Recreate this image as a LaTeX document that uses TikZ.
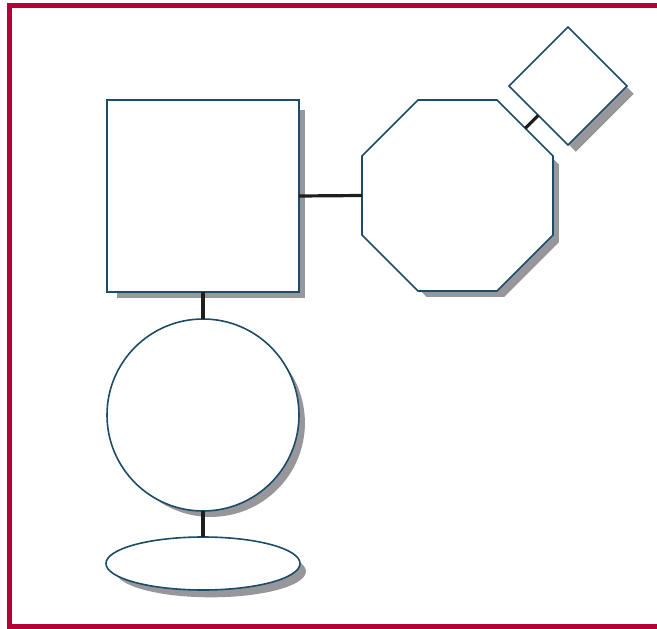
\documentclass[tikz,border=0pt]{standalone}
\usetikzlibrary{shapes.geometric,shadows}
\definecolor{framered}{RGB}{182,0,56}
\definecolor{edgeblue}{RGB}{28,76,104}
\definecolor{shgray}{RGB}{150,150,155}
\definecolor{linkblack}{RGB}{30,30,30}
\begin{document}
\begin{tikzpicture}[x=1pt,y=-1pt,
  shp/.style={draw=edgeblue,line width=1.6pt,fill=white,inner sep=0pt,outer sep=0pt,
    drop shadow={shadow xshift=8pt,shadow yshift=-8pt,shadow scale=0.98,fill=shgray,opacity=1}},
  link/.style={draw=linkblack,line width=3.2pt}]
\useasboundingbox (0,0) rectangle (657,629);
\draw[framered,line width=5pt] (9.5,5.5) rectangle (670,626.5);
\node[shp,rectangle,minimum width=192pt,minimum height=192pt] (sq) at (203,196) {};
\node[shp,regular polygon,regular polygon sides=8,minimum size=206.7pt] (oc) at (457.5,195.5) {};
\node[shp,diamond,minimum width=118pt,minimum height=118pt,aspect=1] (di) at (568,86) {};
\node[shp,circle,minimum size=192pt] (ci) at (203,415) {};
\node[shp,ellipse,minimum width=194pt,minimum height=53pt] (el) at (203,563.5) {};
\draw[link] (sq.east) -- (oc.west);
\draw[link] (oc) -- (di);
\draw[link] (sq.south) -- (ci.north);
\draw[link] (ci.south) -- (el.north);
\end{tikzpicture}
\end{document}
